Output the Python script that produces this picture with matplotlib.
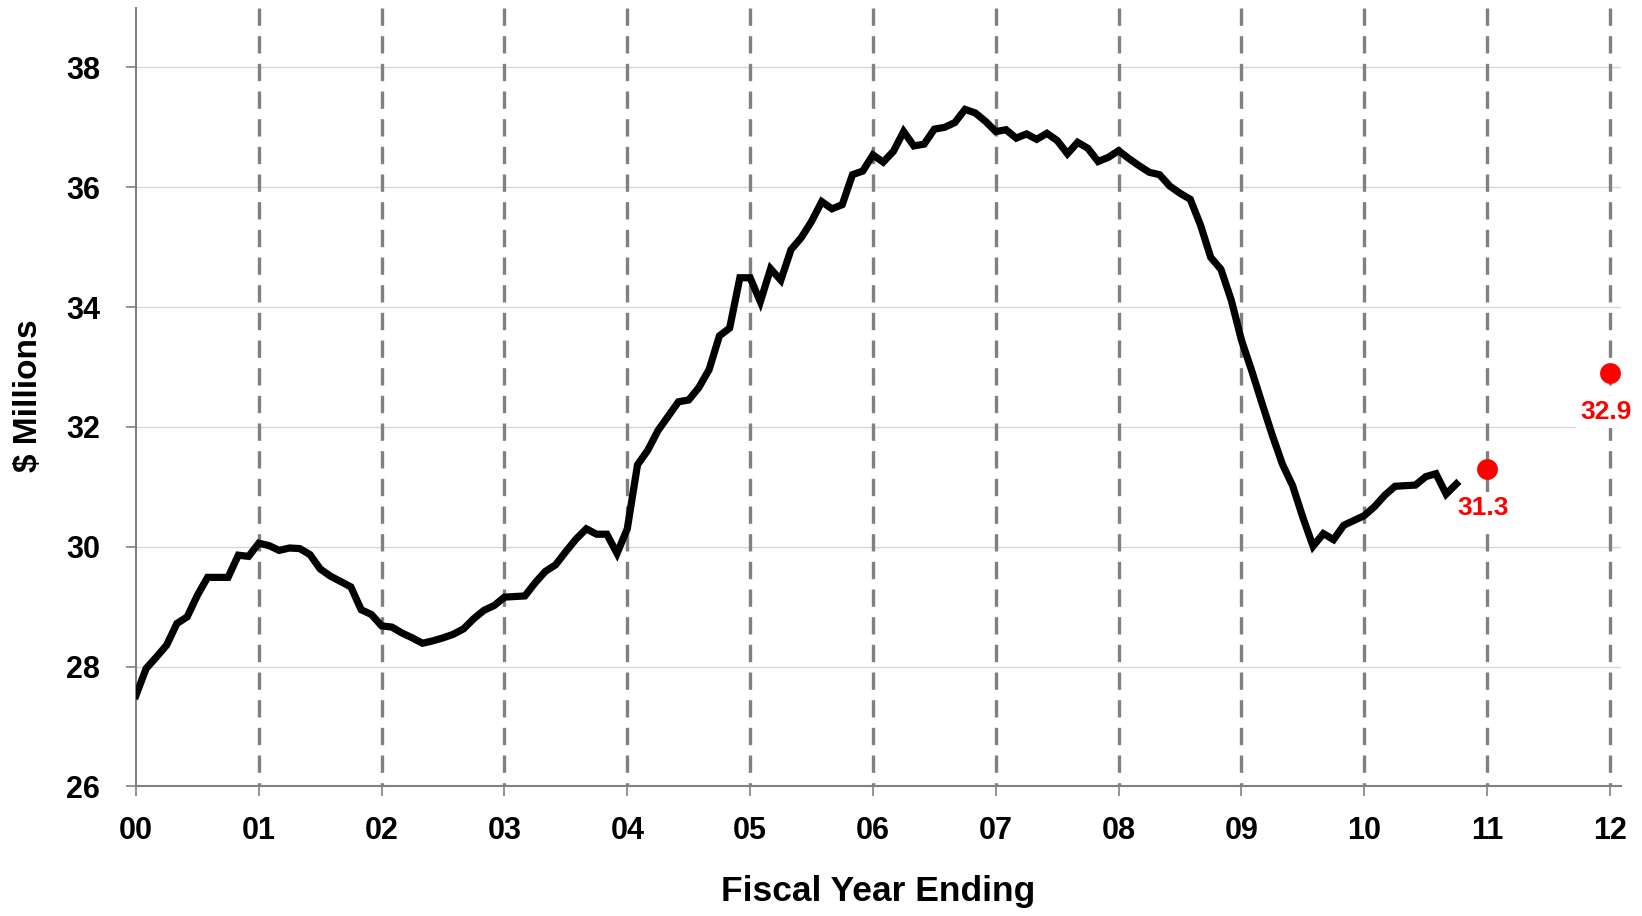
import numpy as np
import matplotlib
matplotlib.use("Agg")
import matplotlib.pyplot as plt

plt.rcParams['font.family'] = ['Liberation Sans', 'DejaVu Sans']
plt.rcParams['font.weight'] = 'bold'

# Monthly values ($ millions), starting at the beginning of FY00
monthly_values = [
    27.52, 27.97, 28.16, 28.36, 28.72, 28.83, 29.19, 29.49, 29.49, 29.49, 29.86, 29.84,
    30.06, 30.02, 29.94, 29.98, 29.97, 29.87, 29.63, 29.51, 29.42, 29.33, 28.95, 28.87,
    28.68, 28.66, 28.56, 28.48, 28.39, 28.43, 28.48, 28.54, 28.63, 28.80, 28.94, 29.02,
    29.16, 29.17, 29.18, 29.40, 29.59, 29.70, 29.92, 30.13, 30.30, 30.21, 30.21, 29.89,
    30.30, 31.37, 31.61, 31.94, 32.18, 32.42, 32.45, 32.66, 32.96, 33.52, 33.65, 34.49,
    34.49, 34.09, 34.64, 34.45, 34.96, 35.16, 35.43, 35.76, 35.64, 35.71, 36.21, 36.27,
    36.54, 36.42, 36.60, 36.93, 36.69, 36.72, 36.97, 37.00, 37.08, 37.30, 37.24, 37.10,
    36.93, 36.96, 36.82, 36.89, 36.80, 36.90, 36.78, 36.56, 36.75, 36.65, 36.43, 36.50,
    36.61, 36.48, 36.36, 36.25, 36.21, 36.02, 35.90, 35.80, 35.37, 34.83, 34.63, 34.12,
    33.45, 32.94, 32.40, 31.87, 31.38, 31.02, 30.49, 30.01, 30.22, 30.12, 30.36, 30.44,
    30.52, 30.67, 30.86, 31.01, 31.02, 31.03, 31.17, 31.22, 30.88, 31.05,
]

# Year-end forecasts
forecast_years = [11, 12]
forecast_values = [31.3, 32.9]

year_ticks = list(range(0, 13))
year_labels = ['%02d' % y for y in year_ticks]
value_ticks = [26, 28, 30, 32, 34, 36, 38]

fig = plt.figure(figsize=(16.42, 9.16), dpi=100)
ax = fig.add_axes([0.0828, 0.1414, 0.9044, 0.8504])

ax.set_xlim(0, 12.09)
ax.set_ylim(26, 39)

# light horizontal gridlines
for v in value_ticks[1:]:
    ax.axhline(v, color='#d4d4d4', lw=0.9, zorder=1)

# dashed year separators, drawn top-down so dashes start at the top
for y in year_ticks[1:]:
    ax.plot([y, y], [39, 26], color='#808080', lw=2.4, dashes=(5.2, 3.1),
            solid_capstyle='butt', dash_capstyle='butt', zorder=2, clip_on=False)

x = np.arange(len(monthly_values)) / 12.0
ax.plot(x, monthly_values, color='black', lw=5.2, solid_joinstyle='miter', zorder=4)

ax.plot(forecast_years, forecast_values, 'o', color='#ff0000', markersize=15,
        markeredgewidth=0, zorder=5)
for fx, fv in zip(forecast_years, forecast_values):
    ax.annotate('%.1f' % fv, (fx, fv), xytext=(-3, -28), textcoords='offset points',
                ha='center', va='center', color='#ff0000', fontsize=19,
                fontweight='bold', zorder=6,
                bbox=dict(boxstyle='square,pad=0.15', fc='white', ec='none'))

ax.set_xticks(year_ticks)
ax.set_xticklabels(year_labels)
ax.set_yticks(value_ticks)
ax.set_yticklabels([str(v) for v in value_ticks])

for side in ['top', 'right']:
    ax.spines[side].set_visible(False)
for side in ['left', 'bottom']:
    ax.spines[side].set_color('#808080')
    ax.spines[side].set_linewidth(1.5)

ax.tick_params(axis='both', direction='out', length=7.2, width=1.2, color='#808080',
               labelsize=22)
ax.tick_params(axis='x', pad=14)
ax.tick_params(axis='y', pad=18.5)

fig.text(878 / 1642, 1 - 892 / 916, 'Fiscal Year Ending', ha='center', va='center',
         fontsize=25.5, fontweight='bold')
fig.text(28 / 1642, 1 - 396 / 916, '$ Millions', ha='center', va='center',
         rotation=90, fontsize=24, fontweight='bold')

fig.savefig('out.png', dpi=100, facecolor='white')
